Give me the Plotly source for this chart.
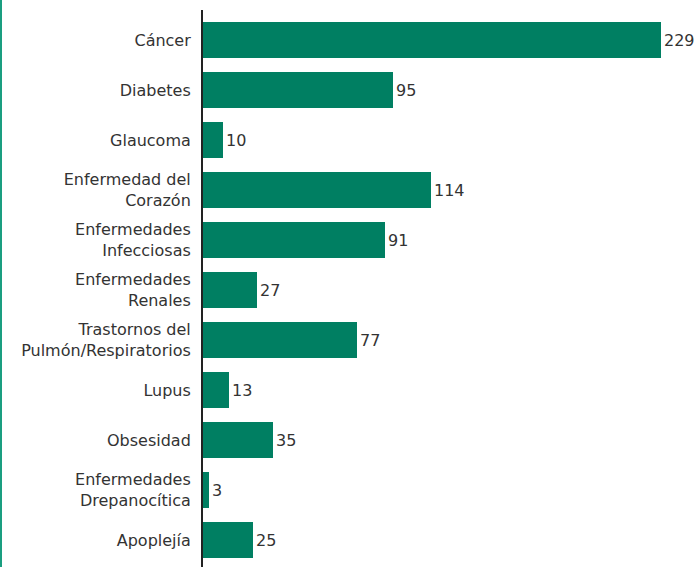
import plotly.graph_objects as go

categories = ["Cáncer", "Diabetes", "Glaucoma", "Enfermedad del<br>Corazón",
              "Enfermedades<br>Infecciosas", "Enfermedades<br>Renales",
              "Trastornos del<br>Pulmón/Respiratorios", "Lupus", "Obsesidad",
              "Enfermedades<br>Drepanocítica", "Apoplejía"]
values = [229, 95, 10, 114, 91, 27, 77, 13, 35, 3, 25]

GREEN = "#007F62"
FONT = dict(family="DejaVu Sans", size=16, color="#333333")

fig = go.Figure(go.Bar(
    x=values, y=list(range(len(categories))), orientation="h",
    marker=dict(color=GREEN, line=dict(width=0)),
    text=[str(v) for v in values], textposition="outside",
    textfont=FONT, cliponaxis=False, width=0.72,
))

fig.update_layout(
    width=697, height=567,
    margin=dict(l=203, r=0, t=10, b=0),
    paper_bgcolor="white", plot_bgcolor="white",
    font=FONT, showlegend=False,
    xaxis=dict(range=[0, 247], visible=False, showgrid=False, zeroline=False),
    yaxis=dict(range=[10.54, -0.6], tickmode="array",
               tickvals=list(range(len(categories))), ticktext=categories,
               showgrid=False, zeroline=False, showline=True,
               linecolor="#222222", linewidth=2, ticks="",
               ticklabelstandoff=7, tickfont=FONT),
    shapes=[dict(type="line", xref="paper", yref="paper",
                 x0=-202/494, x1=-202/494, y0=-0.05, y1=1.05,
                 line=dict(color="#1A9E80", width=2))],
)

fig.write_html("out.html", config={"displayModeBar": False},
               post_script="document.body.style.margin='0';document.body.style.overflow='hidden';")
